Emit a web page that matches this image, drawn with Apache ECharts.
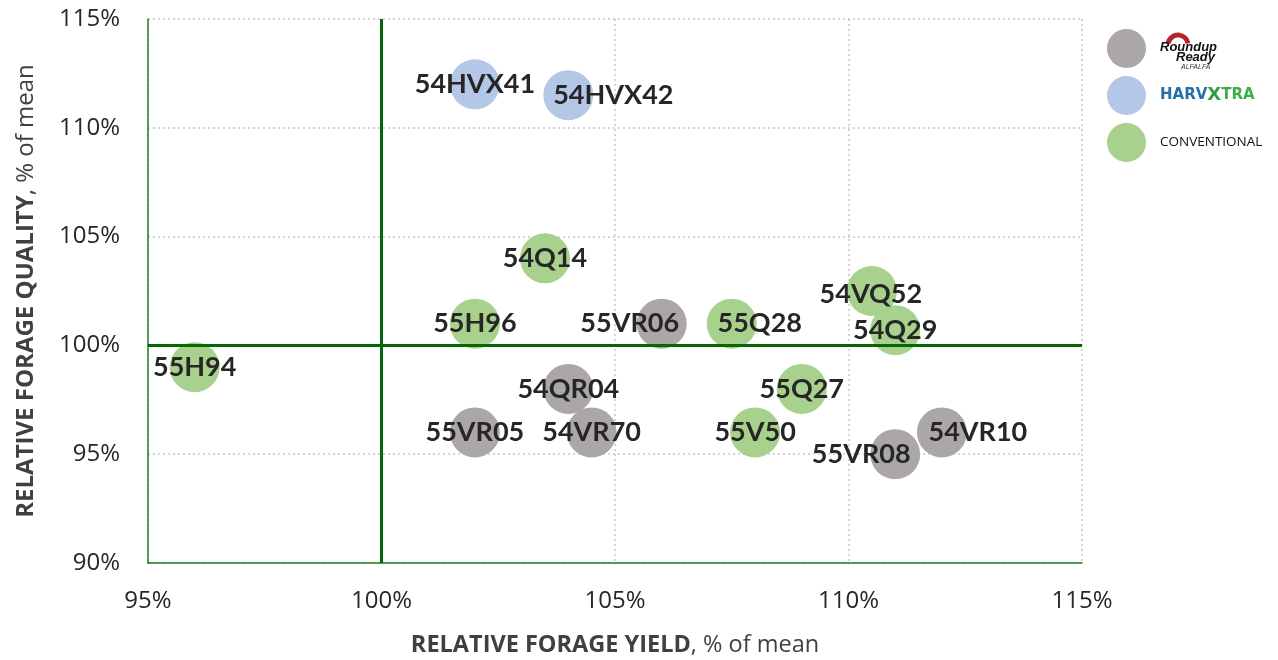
<!DOCTYPE html>
<html><head><meta charset="utf-8">
<script src="https://cdn.jsdelivr.net/npm/echarts@6/dist/echarts.min.js"></script>
<style>html,body{margin:0;padding:0;background:#fff}#c{width:1278px;height:660px}</style>
</head><body><div id="c"></div>
<script>
// Data
const seriesNames = ['ROUNDUP READY', 'HARVXTRA', 'CONVENTIONAL'];
const roundupNames = ['55VR06', '54QR04', '55VR05', '54VR70', '55VR08', '54VR10'];
const roundupYield = [106, 104, 102, 104.5, 111, 112];
const roundupQuality = [101, 98, 96, 96, 95, 96];
const harvNames = ['54HVX41', '54HVX42'];
const harvYield = [102, 104];
const harvQuality = [112, 111.5];
const convNames = ['54Q14', '55H96', '55H94', '55Q28', '54VQ52', '54Q29', '55Q27', '55V50'];
const convYield = [103.5, 102, 96, 107.5, 110.5, 111, 109, 108];
const convQuality = [104, 101, 99, 101, 102.5, 100.7, 98, 96];
const xTicks = [95, 100, 105, 110, 115];
const yTicks = [90, 95, 100, 105, 110, 115];
const meanLine = 100;

// label offsets (style only)
const labelOffsets = {
  '54HVX42': [45, 0], '55VR06': [-32, 0], '55Q28': [28, 0],
  '54VQ52': [-1, 3], '55VR08': [-34, 0], '54VR10': [36, 0]
};

function mk(names, xs, ys) {
  return names.map((n, i) => ({
    name: n, value: [xs[i], ys[i]],
    label: { offset: labelOffsets[n] || [0, 0] }
  }));
}
const colors = ['#ABA7A6', '#B4C7E7', '#A9D18E'];
const chart = echarts.init(document.getElementById('c'));
const labelStyle = {
  show: true, position: 'inside', formatter: p => p.name,
  fontFamily: 'Lato', fontWeight: 'bold', fontSize: 27, color: '#262626'
};
const datasets = [mk(roundupNames, roundupYield, roundupQuality), mk(harvNames, harvYield, harvQuality), mk(convNames, convYield, convQuality)];
const series = datasets.map((d, i) => ({
  name: seriesNames[i], type: 'scatter', symbolSize: 50, data: d,
  itemStyle: { color: colors[i], opacity: 1 }, label: labelStyle, z: 3,
  emphasis: { disabled: true }
}));
series.push({
  type: 'scatter', data: [], z: 2,
  markLine: {
    silent: true, symbol: 'none', label: { show: false },
    lineStyle: { color: '#056805', width: 3, type: 'solid' },
    data: [{ xAxis: meanLine }, { yAxis: meanLine }]
  }
});
const axisLabel = { fontFamily: 'Open Sans', fontSize: 24, color: '#262626' };
const nameRich = size => ({
  b: { fontFamily: 'Open Sans', fontWeight: 'bold', fontSize: size, color: '#404040' },
  r: { fontFamily: 'Open Sans', fontSize: size, color: '#404040' }
});
const logoFont = { fontFamily: 'Liberation Sans', fontWeight: 'bold', fontStyle: 'italic', fill: '#111', verticalAlign: 'middle' };
chart.setOption({
  animation: false,
  grid: { left: 148, right: 196, top: 19, bottom: 97, outerBoundsMode: 'none', containLabel: false },
  xAxis: {
    type: 'value', min: xTicks[0], max: xTicks[xTicks.length - 1], interval: 5,
    axisLine: { show: true, lineStyle: { color: '#1E7F1E', width: 1.5 } },
    axisTick: { show: false },
    splitLine: { show: true, lineStyle: { color: '#C8C8C8', type: [2, 3], width: 1.5 } },
    axisLabel: Object.assign({ margin: 26, formatter: v => v + '%' }, axisLabel),
    name: '{b|RELATIVE FORAGE YIELD}{r|, % of mean}', nameLocation: 'middle', nameGap: 70,
    nameTextStyle: { rich: nameRich(23.5) }
  },
  yAxis: {
    type: 'value', min: yTicks[0], max: yTicks[yTicks.length - 1], interval: 5,
    axisLine: { show: true, lineStyle: { color: '#1E7F1E', width: 1.5 } },
    axisTick: { show: false },
    splitLine: { show: true, lineStyle: { color: '#C8C8C8', type: [2, 3], width: 1.5 } },
    axisLabel: Object.assign({ margin: 28, formatter: v => v + '%' }, axisLabel),
    name: '{b|RELATIVE FORAGE QUALITY}{r|, % of mean}', nameLocation: 'middle', nameGap: 110,
    nameTextStyle: { rich: nameRich(24) }
  },
  legend: {
    orient: 'vertical', left: 1102, top: 24, itemWidth: 39, itemHeight: 39, itemGap: 8,
    icon: 'circle', selectedMode: false,
    data: seriesNames,
    formatter: n => {
      if (n === 'ROUNDUP READY') return '{sp|}';
      if (n === 'HARVXTRA') return '{h|HARV}{x|X}{t|TRA}';
      return '{c|CONVENTIONAL}';
    },
    textStyle: {
      padding: [0, 0, 0, 9],
      rich: {
        sp: { width: 60, height: 13 },
        h: { fontFamily: 'DejaVu Sans', fontWeight: 'bold', fontSize: 15, color: '#2470A8' },
        x: { fontFamily: 'DejaVu Sans', fontWeight: 'bold', fontSize: 18, color: '#2EA043' },
        t: { fontFamily: 'DejaVu Sans', fontWeight: 'bold', fontSize: 15, color: '#3FAE49' },
        c: { fontFamily: 'Open Sans', fontSize: 13.5, color: '#111' }
      }
    }
  },
  graphic: [
    { type: 'arc', silent: true,
      shape: { cx: 1178, cy: 45, r: 10, startAngle: Math.PI * 1.05, endAngle: Math.PI * 1.95 },
      style: { stroke: '#B5252B', lineWidth: 5, fill: null } },
    { type: 'text', silent: true, x: 1160, y: 47, style: Object.assign({ text: 'Roundup', fontSize: 13 }, logoFont) },
    { type: 'text', silent: true, x: 1176, y: 57, style: Object.assign({ text: 'Ready', fontSize: 13 }, logoFont) },
    { type: 'text', silent: true, x: 1181, y: 67, style: { text: 'ALFALFA', fontSize: 7, fontStyle: 'italic', fontFamily: 'Liberation Sans', fill: '#333', verticalAlign: 'middle' } }
  ],
  series: series
});
</script></body></html>
